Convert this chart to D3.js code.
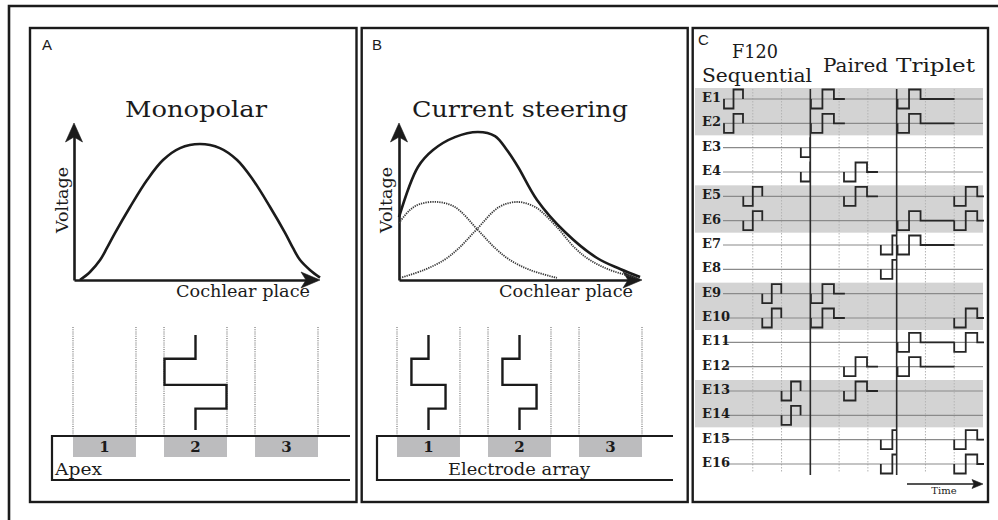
<!DOCTYPE html>
<html><head><meta charset="utf-8">
<script src="https://cdn.jsdelivr.net/npm/d3@7"></script>
<style>body{margin:0;background:#fff}svg{display:block}</style>
</head><body>
<svg id="fig" width="998" height="520"></svg>
<script>
// ---------------- DATA ----------------
const panelLetters = ["A", "B", "C"];
const panelTitles = ["Monopolar", "Current steering"];
const yAxisTitle = "Voltage";
const xAxisTitle = "Cochlear place";
const contacts = ["1", "2", "3"];
const arrayCaptions = ["Apex", "Electrode array"];

// voltage (0-100) vs cochlear place (0-100)
const monoPlace   = [2.4, 6.5, 10.6, 13.4, 16.7, 22.8, 29.7, 36.2, 43.1, 51.2, 59.3, 66.3, 72.8, 79.7, 85.8, 89, 91.9, 95.9, 100];
const monoVoltage = [0, 5.1, 12.7, 20.4, 30, 46.5, 63.7, 76.4, 84, 86.6, 84, 76.4, 63.7, 46.5, 30, 20.4, 12.7, 6.4, 1.5];

const steerPlace   = [0, 7.8, 14, 23, 32.5, 39.5, 44.4, 49, 56.8, 68.3, 81.5, 91, 99.2];
const steerVoltage = [40.1, 72, 82.8, 91, 94.3, 91.7, 82.8, 72, 51, 30.6, 14, 7, 1.9];

const steerLeftPlace   = [0, 4.5, 8.6, 15.6, 23, 32.5, 39.5, 45.7, 53.9, 65];
const steerLeftVoltage = [36.3, 44.6, 48.4, 49.7, 46.5, 31.8, 20.4, 12.7, 6.4, 1.3];
const steerRightPlace   = [0.4, 10.3, 18.5, 24.7, 31.7, 41.2, 48.6, 56, 64.2, 72.4, 78.6, 86.8, 97.9];
const steerRightVoltage = [1.3, 6.4, 12.7, 20.4, 31.8, 46.5, 49.7, 46.5, 35, 20.4, 12.7, 6.4, 1.3];

// relative current on contacts 1..3
const monoCurrents  = [0, 1, 0];
const steerCurrents = [0.55, 0.55, 0];
// pulse phase boundaries (lead, cathodic, anodic, trail), arbitrary time
const pulseEvents = [0, 1, 2.1, 3.1, 4];

// Panel C
const electrodes = ["E1","E2","E3","E4","E5","E6","E7","E8","E9","E10","E11","E12","E13","E14","E15","E16"];
const shadedPairs = [["E1","E2"], ["E5","E6"], ["E9","E10"], ["E13","E14"]];
const strategyNames = ["Sequential", "Paired", "Triplet"];
const strategyTopLabel = "F120";
const strategyBounds = [0, 3, 6, 9];
const phaseDur  = [0.33, 0.4, 0.4];
const windowDur = [0.66, 1.18, 1.98];
const seqElectrodes = ["E1","E2","E5","E6","E9","E10","E13","E14","E3","E4"];
const seqOnsets     = [0, 0, 0.67, 0.67, 1.33, 1.33, 2, 2, 2.67, 2.67];
const pairedElectrodes = ["E1","E2","E9","E10","E4","E5","E12","E13","E7","E8","E15","E16"];
const pairedOnsets     = [3.02, 3.02, 3.02, 3.02, 4.17, 4.17, 4.17, 4.17, 5.45, 5.45, 5.45, 5.45];
const tripletElectrodes = ["E1","E2","E6","E7","E11","E12","E5","E6","E10","E11","E15","E16"];
const tripletOnsets     = [6.03, 6.03, 6.03, 6.03, 6.03, 6.03, 8, 8, 8, 8, 8, 8];
const timeLabel = "Time";

// ---------------- DRAWING ----------------
const svg = d3.select("#fig");
const INK = "#1b1b1b";
const SERIF = "'DejaVu Serif', serif";
const SANS = "'Liberation Sans', Arial, sans-serif";
const line = d3.line();

function arrowHead(g, tx, ty, angle, L, W, N) {
  const pts = [[0,0],[-L,-W],[-L+N,0],[-L,W]];
  g.append("path").attr("d", line(pts) + "Z")
    .attr("transform", `translate(${tx},${ty}) rotate(${angle})`)
    .attr("fill", INK).attr("stroke", INK).attr("stroke-width", 0.6).attr("stroke-linejoin", "miter");
}
function txt(g, s, x, y, o) {
  const t = g.append("text").attr("x", x).attr("y", y).text(s)
    .attr("font-family", o.family || SERIF).attr("font-size", o.size).attr("fill", INK)
    .attr("text-anchor", o.anchor || "start");
  if (o.weight) t.attr("font-weight", o.weight);
  if (o.len) t.attr("textLength", o.len).attr("lengthAdjust", "spacingAndGlyphs");
  if (o.rotate) t.attr("transform", `rotate(${o.rotate},${x},${y})`);
  return t;
}

// outer frame (top and left edges visible)
svg.append("path").attr("d", line([[998,6],[9,6],[9,520]])).attr("fill","none")
  .attr("stroke", INK).attr("stroke-width", 2.6);

const cfgs = [
  {x0:30, x1:356.5, letterX:42, ax0:74, ax1:320, titleX:125, titleW:142, voltX:68, cochX:176, cochW:134,
   band:[73,318], arr0:52, arr1:350, capX:55, capW:47, capAnchor:"start",
   curves:[{p:monoPlace, v:monoVoltage}], currents: monoCurrents, title: panelTitles[0], caption: arrayCaptions[0], letter: panelLetters[0]},
  {x0:361.7, x1:687.7, letterX:372, ax0:399, ax1:642, titleX:412, titleW:216, voltX:392, cochX:499, cochW:134,
   band:[397,642], arr0:377, arr1:673, capX:519, capW:142, capAnchor:"middle",
   curves:[{p:steerLeftPlace, v:steerLeftVoltage, dotted:true},{p:steerRightPlace, v:steerRightVoltage, dotted:true},{p:steerPlace, v:steerVoltage}],
   currents: steerCurrents, title: panelTitles[1], caption: arrayCaptions[1], letter: panelLetters[1]}
];

cfgs.forEach(cfg => {
  const g = svg.append("g");
  const x = d3.scaleLinear().domain([0,100]).range([cfg.ax0, cfg.ax1]);
  const y = d3.scaleLinear().domain([0,100]).range([280, 123]);
  txt(g, cfg.letter, cfg.letterX, 50, {family:SANS, size:15});
  txt(g, cfg.title, cfg.titleX, 117, {size:23, len:cfg.titleW});

  const xa = x.copy().range([cfg.ax0, cfg.ax1 - 8]);
  const ya = y.copy().range([280, 131]);
  const gx = g.append("g").attr("transform", `translate(0,${y(0)})`)
    .call(d3.axisBottom(xa).tickValues([]).tickSizeOuter(0));
  const gy = g.append("g").attr("transform", `translate(${x(0)},0)`)
    .call(d3.axisLeft(ya).tickValues([]).tickSizeOuter(0));
  [gx, gy].forEach(a => a.select(".domain").attr("stroke", INK).attr("stroke-width", 2.6));
  arrowHead(g, x(100), y(0), 0, 19, 8, 5);
  arrowHead(g, x(0), y(100), -90, 19, 8.5, 5);

  txt(g, yAxisTitle, cfg.voltX, 200, {size:16, anchor:"middle", len:66, rotate:-90});
  txt(g, xAxisTitle, cfg.cochX, 297, {size:16, len:cfg.cochW});

  const gen = d3.line().x(d => x(d[0])).y(d => y(d[1])).curve(d3.curveCatmullRom.alpha(0.5));
  cfg.curves.forEach(c => {
    g.append("path").datum(d3.zip(c.p, c.v)).attr("d", gen).attr("fill", "none")
      .attr("stroke", c.dotted ? "#3a3a3a" : INK).attr("stroke-width", c.dotted ? 1.8 : 2.6)
      .attr("stroke-dasharray", c.dotted ? "1.3,1" : null);
  });

  const band = d3.scaleBand().domain(contacts).range(cfg.band).paddingInner(0.308).paddingOuter(0);
  const bw = band.bandwidth();
  contacts.forEach(c => [band(c), band(c) + bw].forEach(xx => {
    g.append("line").attr("x1", xx).attr("x2", xx).attr("y1", 327).attr("y2", 435)
      .attr("stroke", "#777").attr("stroke-width", 1.2).attr("stroke-dasharray", "1,1.2");
  }));
  g.selectAll("rect.el").data(contacts).join("rect").attr("class","el")
    .attr("x", d => band(d)).attr("y", 437).attr("width", bw).attr("height", 20).attr("fill", "#bcbcbe");
  contacts.forEach(c => txt(g, c, band(c) + bw/2, 452, {size:15, weight:"bold", anchor:"middle"}));
  g.append("path").attr("d", line([[cfg.arr1,436],[cfg.arr0,436],[cfg.arr0,480],[cfg.arr1,480]]))
    .attr("fill","none").attr("stroke", INK).attr("stroke-width", 2.2);
  txt(g, cfg.caption, cfg.capX, 475, {size:17, anchor:cfg.capAnchor, len:cfg.capW});

  const ty = d3.scaleLinear().domain([0,4]).range([335,430]);
  const amp = d3.scaleLinear().domain([0,1]).range([0,31]);
  cfg.currents.forEach((cur, i) => {
    if (!cur) return;
    const cx = band(contacts[i]) + bw/2, a = amp(cur), e = pulseEvents;
    const pts = [[cx,ty(e[0])],[cx,ty(e[1])],[cx-a,ty(e[1])],[cx-a,ty(e[2])],[cx+a,ty(e[2])],[cx+a,ty(e[3])],[cx,ty(e[3])],[cx,ty(e[4])]];
    g.append("path").attr("d", line(pts)).attr("fill","none").attr("stroke", INK)
      .attr("stroke-width", 2.4).attr("stroke-linejoin","miter");
  });

  g.append("rect").attr("x", cfg.x0).attr("y", 28).attr("width", cfg.x1 - cfg.x0).attr("height", 474)
    .attr("fill","none").attr("stroke", INK).attr("stroke-width", 2.4);
});

// ---------------- Panel C ----------------
(function(){
  const g = svg.append("g");
  const xC = d3.scaleLinear().domain([0, 9]).range([724, 983]);
  const yC = d3.scalePoint().domain(electrodes).range([99, 464]);
  const top = 89, bot = 475;

  shadedPairs.forEach(([a,b]) => {
    g.append("rect").attr("x", 695).attr("y", yC(a) - 11).attr("width", xC(9) - 695)
      .attr("height", yC(b) - yC(a) + 23).attr("fill", "#d3d3d3");
  });
  xC.ticks(9).filter(t => t > 0 && !strategyBounds.includes(t)).forEach(t => {
    g.append("line").attr("x1", xC(t)).attr("x2", xC(t)).attr("y1", top).attr("y2", bot - 2)
      .attr("stroke", "#b4b4b4").attr("stroke-width", 1).attr("stroke-dasharray", "1.5,1.5");
  });
  electrodes.forEach(e => {
    g.append("line").attr("x1", 723).attr("x2", xC(9)).attr("y1", yC(e)).attr("y2", yC(e))
      .attr("stroke", "#8a8a8a").attr("stroke-width", 1.2);
  });

  const defs = svg.append("defs");
  const groups = [[seqElectrodes, seqOnsets], [pairedElectrodes, pairedOnsets], [tripletElectrodes, tripletOnsets]];
  groups.forEach(([els, ons], s) => {
    const id = "clipS" + s;
    const cx0 = s === 0 ? xC(strategyBounds[0]) - 3 : xC(strategyBounds[s]);
    defs.append("clipPath").attr("id", id).append("rect")
      .attr("x", cx0).attr("y", 70).attr("width", xC(strategyBounds[s+1]) - cx0 + (s === 2 ? 1 : 0)).attr("height", 420);
    const gs = g.append("g").attr("clip-path", `url(#${id})`);
    els.forEach((e, i) => {
      const t0 = ons[i], p = phaseDur[s], w = windowDur[s], y0 = yC(e), a = 9.5;
      const pts = [[xC(t0), y0], [xC(t0), y0 + a], [xC(t0 + p), y0 + a], [xC(t0 + p), y0 - a],
                   [xC(t0 + 2*p), y0 - a], [xC(t0 + 2*p), y0], [xC(t0 + w), y0]];
      gs.append("path").attr("d", line(pts)).attr("fill","none").attr("stroke", "#262626")
        .attr("stroke-width", 1.8).attr("stroke-linejoin","miter");
    });
  });
  [3, 6].forEach(t => {
    g.append("line").attr("x1", xC(t)).attr("x2", xC(t)).attr("y1", top).attr("y2", bot)
      .attr("stroke", "#2a2a2a").attr("stroke-width", 1.6);
  });

  electrodes.forEach(e => txt(g, e, 702, yC(e) + 3, {size:13, weight:"bold"}));

  txt(g, panelLetters[2], 698, 45, {family:SANS, size:15});
  txt(g, strategyTopLabel, 732, 58, {size:18, len:46});
  txt(g, strategyNames[0], 702, 82, {size:18, len:110});
  txt(g, strategyNames[1], 823, 72, {size:18, len:65});
  txt(g, strategyNames[2], 896, 72, {size:18, len:79});

  g.append("line").attr("x1", 907).attr("x2", xC(9) - 6).attr("y1", 484).attr("y2", 484)
    .attr("stroke", INK).attr("stroke-width", 1.4);
  arrowHead(g, xC(9), 484, 0, 11, 4.5, 2);
  txt(g, timeLabel, 944, 494, {size:10, anchor:"middle"});

  g.append("rect").attr("x", 692.7).attr("y", 28).attr("width", 988 - 692.7).attr("height", 474)
    .attr("fill","none").attr("stroke", INK).attr("stroke-width", 2.4);
})();
</script>
</body></html>
